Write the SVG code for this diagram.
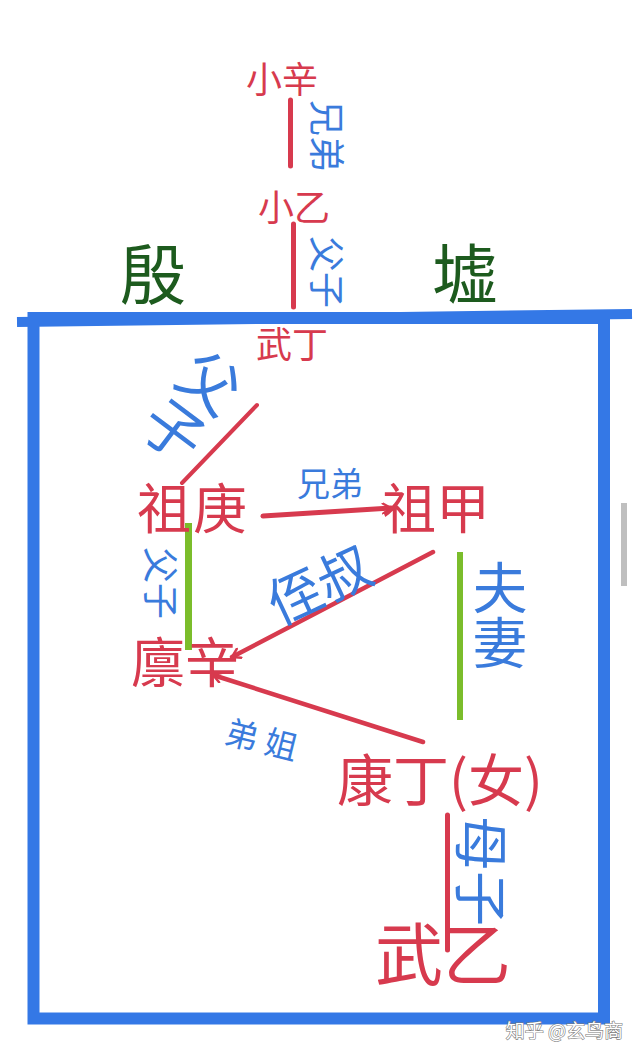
<svg xmlns="http://www.w3.org/2000/svg" width="640" height="1058" viewBox="0 0 640 1058">
<defs>
<style>
text{font-family:"Noto Sans CJK SC","Noto Sans",sans-serif;}
.r{fill:#d73a4e;text-anchor:middle;}
.b{fill:#3a7bdc;text-anchor:middle;}
.g{fill:#1d5b1e;text-anchor:middle;}
.c{dominant-baseline:central;}
.v{writing-mode:vertical-rl;}
.rl{stroke:#d73a4e;stroke-linecap:round;fill:none;}
.gl{stroke:#7bbd2b;fill:none;}
</style>
<marker id="arr" viewBox="0 0 12 12" refX="10" refY="6" markerWidth="12" markerHeight="12" markerUnits="userSpaceOnUse" orient="auto">
<path d="M2,1 L10,6 L2,11" fill="none" stroke="#d73a4e" stroke-width="2.5" stroke-linecap="round"/>
</marker>
</defs>
<rect width="640" height="1058" fill="#ffffff"/>
<g id="frame">
<line x1="17" y1="322" x2="632" y2="314" stroke="#3478e6" stroke-width="10"/>
<rect x="33.5" y="318" width="570.5" height="700.5" fill="none" stroke="#3478e6" stroke-width="12"/>
<rect x="621" y="503" width="6" height="83" fill="#bfbfbf"/>
</g>
<g id="connectors">
<line class="rl" x1="290.5" y1="100" x2="290.5" y2="166" stroke-width="5"/>
<line class="rl" x1="293.5" y1="224" x2="293.5" y2="307" stroke-width="5"/>
<line class="rl" x1="257" y1="405" x2="182" y2="483" stroke-width="4"/>
<line class="rl" x1="263" y1="516" x2="391" y2="508" stroke-width="5" marker-end="url(#arr)"/>
<line class="gl" x1="188.5" y1="523" x2="188.5" y2="650" stroke-width="7"/>
<line class="rl" x1="433" y1="552" x2="232" y2="657" stroke-width="4.5" marker-end="url(#arr)"/>
<line class="rl" x1="423" y1="742" x2="213" y2="675" stroke-width="4.5" marker-end="url(#arr)"/>
<line class="gl" x1="460" y1="552" x2="460" y2="720" stroke-width="6"/>
<line class="rl" x1="447.5" y1="815" x2="447.5" y2="950" stroke-width="5"/>
</g>
<g id="title">
<text class="g" x="153" y="299" font-size="66">殷</text>
<text class="g" x="465" y="299" font-size="66">墟</text>
</g>
<g id="n-xiaoxin"><text class="r" x="282" y="93" font-size="36">小辛</text></g>
<g id="n-xiaoyi"><text class="r" x="294" y="221" font-size="36">小乙</text></g>
<g id="n-wuding"><text class="r" x="292" y="358" font-size="36">武丁</text></g>
<g id="n-zugeng"><text class="r" x="193" y="529" font-size="54" letter-spacing="2">祖庚</text></g>
<g id="n-zujia"><text class="r" x="436" y="529" font-size="54">祖甲</text></g>
<g id="n-linxin"><text class="r" x="185" y="683" font-size="54">廪辛</text></g>
<g id="n-kangding"><text class="r" x="440" y="801" font-size="56">康丁(女)</text></g>
<g id="n-wuyi"><text class="r" x="443" y="980" font-size="68">武乙</text></g>
<g id="labels">
<text class="b c" font-size="36" transform="translate(328.5,136) rotate(90)">兄弟</text>
<text class="b c" font-size="36" transform="translate(328.5,272) rotate(90)">父子</text>
<text class="b c v" font-size="60" transform="translate(192,406) rotate(37)">父子</text>
<text class="b" x="330" y="496" font-size="33">兄弟</text>
<text class="b c" font-size="36" transform="translate(162.5,583) rotate(90)">父子</text>
<text class="b c" font-size="54" transform="translate(318,582) rotate(-25)">侄叔</text>
<text class="b c v" font-size="55" transform="translate(500,615)">夫妻</text>
<text class="b c" font-size="33" transform="translate(262,738) rotate(14)">弟 姐</text>
<text class="b c" font-size="55" transform="translate(485,871) rotate(90)">母子</text>
</g>
<g id="watermark">
<text x="623" y="1038" font-size="19" text-anchor="end" fill="#ffffff" stroke="#7a7a7a" stroke-width="1.2" paint-order="stroke">知乎 @玄鸟商</text>
</g>
</svg>
